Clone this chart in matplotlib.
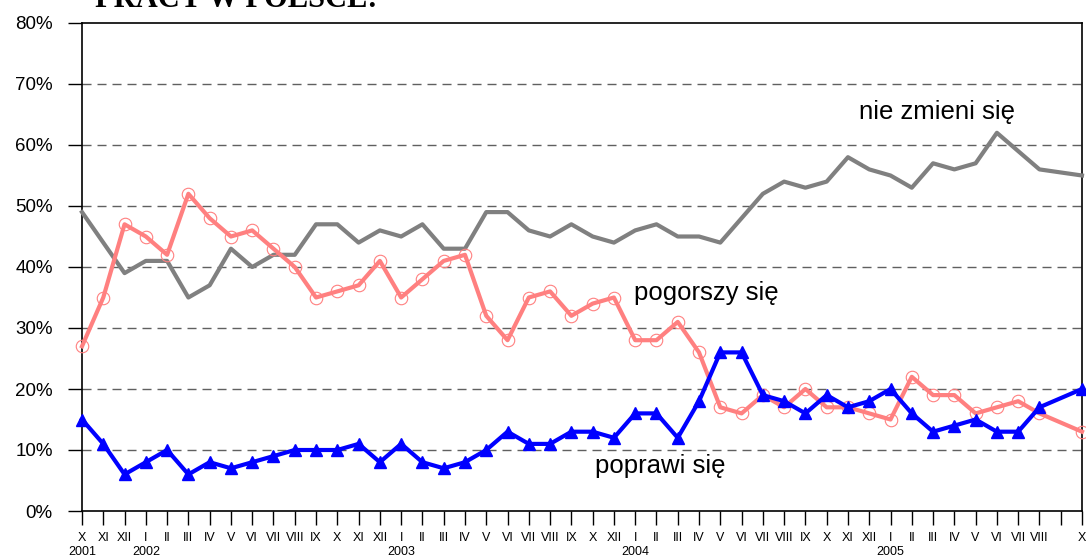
import numpy as np
import matplotlib.pyplot as plt

# miesiące badania (X 2001 - X 2005), brak pomiaru w IX 2005
months = ['X', 'XI', 'XII',
          'I', 'II', 'III', 'IV', 'V', 'VI', 'VII', 'VIII', 'IX', 'X', 'XI', 'XII',
          'I', 'II', 'III', 'IV', 'V', 'VI', 'VII', 'VIII', 'IX', 'X', 'XII',
          'I', 'II', 'III', 'IV', 'V', 'VI', 'VII', 'VIII', 'IX', 'X', 'XI', 'XII',
          'I', 'II', 'III', 'IV', 'V', 'VI', 'VII', 'VIII', '', 'X']
years = ['2001', '2002', '2003', '2004', '2005']
year_idx = [0, 3, 15, 26, 38]

nan = np.nan
nie_zmieni = [49, 44, 39, 41, 41, 35, 37, 43, 40, 42, 42, 47, 47, 44, 46,
              45, 47, 43, 43, 49, 49, 46, 45, 47, 45, 44,
              46, 47, 45, 45, 44, 48, 52, 54, 53, 54, 58, 56,
              55, 53, 57, 56, 57, 62, 59, 56, nan, 55]
pogorszy = [27, 35, 47, 45, 42, 52, 48, 45, 46, 43, 40, 35, 36, 37, 41,
            35, 38, 41, 42, 32, 28, 35, 36, 32, 34, 35,
            28, 28, 31, 26, 17, 16, 19, 17, 20, 17, 17, 16,
            15, 22, 19, 19, 16, 17, 18, 16, nan, 13]
poprawi = [15, 11, 6, 8, 10, 6, 8, 7, 8, 9, 10, 10, 10, 11, 8,
           11, 8, 7, 8, 10, 13, 11, 11, 13, 13, 12,
           16, 16, 12, 18, 26, 26, 19, 18, 16, 19, 17, 18,
           20, 16, 13, 14, 15, 13, 13, 17, nan, 20]

plt.rcParams['font.family'] = ['Liberation Sans', 'DejaVu Sans']

fig = plt.figure(figsize=(10.86, 5.6), dpi=100)
ax = fig.add_axes([82/1086, 1-511/560, 1000/1086, 488/560])

x = np.arange(len(months))


def draw(vals, **kw):
    v = np.array(vals, dtype=float)
    ok = ~np.isnan(v)
    ax.plot(x[ok], v[ok], clip_on=False, **kw)


draw(nie_zmieni, color='#808080', lw=3, zorder=3)
draw(pogorszy, color='#FF8080', lw=3, marker='o', ms=9, mfc='none',
     mec='#FF8080', mew=0.8, zorder=4)
draw(poprawi, color='#0000FF', lw=3, marker='^', ms=8, zorder=5)

ax.set_xlim(0, len(months)-1)
ax.set_ylim(0, 80)
ax.set_yticks(range(0, 81, 10))
ax.set_yticklabels(['%d%%' % v for v in range(0, 81, 10)], fontsize=13.5)
for v in range(10, 80, 10):
    ax.axhline(v, color='#606060', lw=1, dashes=(6.5, 4.3), zorder=1)

ax.set_xticks(x)
ax.set_xticklabels(months, fontsize=9)
ax.tick_params(axis='x', length=10, width=1, pad=5, colors='black')
ax.tick_params(axis='y', length=10, width=1, pad=11)
for s in ax.spines.values():
    s.set_linewidth(1.2)
    s.set_color('black')

for i, yr in zip(year_idx, years):
    ax.text(i, -6.8, yr, ha='center', va='center', fontsize=9,
            clip_on=False)

ax.text(937/21.277 - 82/21.277, 65.4, 'nie zmieni się', ha='center',
        va='center', fontsize=18.5)
ax.text(706/21.277 - 82/21.277, 35.7, 'pogorszy się', ha='center',
        va='center', fontsize=18.5)
ax.text(660/21.277 - 82/21.277, 7.4, 'poprawi się', ha='center',
        va='center', fontsize=18.5)

# górna część tytułu jest ucięta, jak w oryginale
fig.text(95/1086, 1-7/560, 'PRACY W POLSCE:', fontsize=22,
         fontweight='bold', family='Liberation Serif', va='baseline')

fig.savefig('out.png', dpi=100)
